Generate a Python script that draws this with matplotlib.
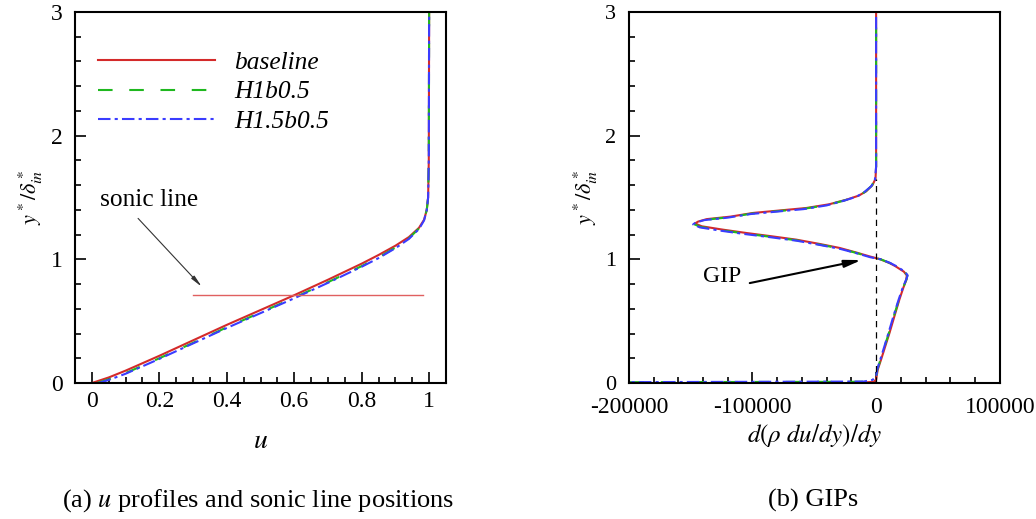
import matplotlib
matplotlib.use("Agg")
import matplotlib.pyplot as plt
from matplotlib.ticker import MultipleLocator

plt.rcParams["font.family"] = ["Liberation Serif", "DejaVu Serif"]
plt.rcParams["mathtext.fontset"] = "stix"

# u profiles (y*/delta*_in against u)
u_base = [0.0, 0.05, 0.1, 0.2, 0.3, 0.4, 0.5, 0.6, 0.7, 0.8, 0.85, 0.9, 0.94,
          0.97, 0.985, 0.993, 0.997, 0.999, 1.0]
y_base = [0.0, 0.045, 0.1, 0.22, 0.345, 0.47, 0.59, 0.71, 0.835, 0.965, 1.035,
          1.11, 1.18, 1.255, 1.32, 1.4, 1.5, 1.8, 3.0]
u_h1 = [0.015, 0.05, 0.1, 0.2, 0.3, 0.4, 0.5, 0.6, 0.7, 0.8, 0.85, 0.9, 0.94,
        0.97, 0.985, 0.993, 0.997, 0.999, 1.0]
y_h1 = [0.0, 0.03, 0.08, 0.2, 0.325, 0.45, 0.57, 0.69, 0.815, 0.945, 1.015,
        1.095, 1.17, 1.25, 1.32, 1.4, 1.5, 1.8, 3.0]
u_h15 = [0.02, 0.05, 0.1, 0.2, 0.3, 0.4, 0.5, 0.6, 0.7, 0.8, 0.85, 0.9, 0.94,
         0.97, 0.985, 0.993, 0.997, 0.999, 1.0]
y_h15 = [0.0, 0.025, 0.075, 0.195, 0.32, 0.445, 0.565, 0.685, 0.81, 0.94, 1.01,
         1.09, 1.165, 1.245, 1.315, 1.4, 1.5, 1.8, 3.0]

sonic_y = 0.71
sonic_u = [0.30, 0.982]

# GIP profiles: d(rho du/dy)/dy against y*/delta*_in
g_base = [-15000, -2000, 0, 1300, 4000, 7500, 10800, 14800, 18800, 22000,
          24500, 24800, 22500, 20000, 15500, 10800, 3500, -5400, -16000,
          -29500, -46000, -64500, -85000, -105000, -124000, -141000, -146500,
          -144000, -137000, -118000, -99500, -78000, -56500, -38000, -24000,
          -14000, -8000, -3000, -500, 0, 0]
yg_base = [0.0, 0.01, 0.027, 0.108, 0.189, 0.3, 0.404, 0.54, 0.674, 0.77,
           0.836, 0.87, 0.9, 0.916, 0.945, 0.97, 1.0, 1.024, 1.055, 1.092,
           1.125, 1.159, 1.187, 1.213, 1.24, 1.267, 1.29, 1.305, 1.325, 1.345,
           1.375, 1.395, 1.415, 1.445, 1.482, 1.515, 1.55, 1.6, 1.65, 1.75, 3.0]
g_h1 = [-250000, -12000, -3000, 0, 1000, 3600, 7000, 10300, 14300, 18500,
        21800, 24500, 25300, 23000, 20500, 16000, 11200, 3800, -5000, -15500,
        -29000, -46000, -64500, -85500, -106000, -125000, -142000, -147500,
        -145000, -138000, -119000, -100500, -79000, -57500, -39000, -25000,
        -15000, -9000, -3500, -800, 0, 0]
yg_h1 = [0.006, 0.01, 0.02, 0.04, 0.11, 0.19, 0.3, 0.404, 0.54, 0.674, 0.77,
         0.836, 0.87, 0.9, 0.916, 0.945, 0.97, 1.0, 1.02, 1.05, 1.087, 1.12,
         1.154, 1.182, 1.208, 1.235, 1.262, 1.285, 1.3, 1.32, 1.34, 1.37, 1.39,
         1.41, 1.44, 1.478, 1.51, 1.545, 1.595, 1.645, 1.75, 3.0]
g_h15 = [-250000, -10000, -3000, 0, 900, 3400, 6800, 10000, 14000, 18200,
         21500, 24300, 25500, 23300, 20800, 16300, 11500, 4000, -4800, -15000,
         -28500, -45500, -64000, -85000, -106000, -125500, -142500, -148000,
         -146000, -139000, -120000, -101500, -80000, -58500, -40000, -26000,
         -16000, -10000, -4000, -1000, 0, 0]
yg_h15 = [0.006, 0.012, 0.025, 0.05, 0.11, 0.19, 0.3, 0.404, 0.54, 0.674,
          0.77, 0.836, 0.87, 0.9, 0.916, 0.945, 0.97, 1.0, 1.017, 1.047, 1.083,
          1.116, 1.15, 1.178, 1.204, 1.231, 1.258, 1.282, 1.297, 1.317, 1.337,
          1.366, 1.386, 1.406, 1.436, 1.474, 1.506, 1.54, 1.59, 1.64, 1.75, 3.0]

zero_top = 1.65

labels = ["baseline", "H1b0.5", "H1.5b0.5"]
colors = ["#d42a2a", "#1fb81f", "#3a3cff"]
styles = ["-", (0, (7, 8)), (0, (6, 2, 1.5, 2))]

fig = plt.figure(figsize=(10.36, 5.19), dpi=100)
ax1 = fig.add_axes([0.0724, 0.262, 0.3581, 0.715])
ax2 = fig.add_axes([0.607, 0.262, 0.358, 0.715])

for ax in (ax1, ax2):
    for s in ax.spines.values():
        s.set_linewidth(1.5)
    ax.tick_params(which="both", direction="in", top=False, right=False,
                   labelsize=17, width=1.2)
    ax.tick_params(which="major", length=8)
    ax.tick_params(which="minor", length=4)
    ax.tick_params(axis="y", pad=9)
    ax.set_ylim(0, 3)
    ax.yaxis.set_major_locator(MultipleLocator(1))
    ax.yaxis.set_minor_locator(MultipleLocator(0.2))
    ax.set_ylabel(r"$y^*/\delta^*_{in}$", fontsize=16, labelpad=4)

# (a) u profiles
for u, y, lab, c, ls in zip([u_base, u_h1, u_h15], [y_base, y_h1, y_h15],
                            labels, colors, styles):
    ax1.plot(u, y, color=c, ls=ls, lw=1.5, label=lab)
ax1.plot(sonic_u, [sonic_y, sonic_y], color="#e06060", lw=1.0)
ax1.set_xlim(-0.05, 1.05)
ax1.xaxis.set_minor_locator(MultipleLocator(0.05))
ax1.set_xticks([0, 0.2, 0.4, 0.6, 0.8, 1.0], ["0", "0.2", "0.4", "0.6", "0.8", "1"])
ax1.tick_params(axis="x", pad=6)
ax1.set_xlabel(r"$u$", fontsize=20, labelpad=12)
ax1.legend(loc="upper left", bbox_to_anchor=(0.0, 0.955), frameon=False,
           handlelength=4.6, handletextpad=0.75, labelspacing=0.25,
           prop={"size": 18.3, "style": "italic"})
ax1.text(0.023, 1.48, "sonic line", fontsize=18.3, ha="left", va="center")
ax1.annotate("", xy=(0.326, 0.778), xytext=(0.137, 1.331),
             arrowprops=dict(arrowstyle="-|>,head_width=0.12,head_length=0.7",
                             color="#333333", lw=0.8, shrinkA=0, shrinkB=0))

# (b) GIPs
for g, y, lab, c, ls in zip([g_base, g_h1, g_h15], [yg_base, yg_h1, yg_h15],
                            labels, colors, styles):
    ax2.plot(g, y, color=c, ls=ls, lw=1.5, label=lab)
ax2.vlines(0, 0, zero_top, colors="black", linestyles=(0, (5, 4)), lw=0.9)
ax2.set_xlim(-200000, 100000)
ax2.xaxis.set_minor_locator(MultipleLocator(20000))
ax2.set_xticks([-200000, -100000, 0, 100000],
               ["-200000", "-100000", "0", "100000"])
ax2.tick_params(axis="x", pad=10)
ax2.tick_params(axis="y", labelsize=16)
ax2.set_xlabel(r"$d(\rho\ du/dy)/dy$", fontsize=18, labelpad=3)
ax2.text(-124800, 0.865, "GIP", fontsize=17, ha="center", va="center")
ax2.annotate("", xy=(-11900, 0.994), xytext=(-102200, 0.808),
             arrowprops=dict(arrowstyle="-|>,head_width=0.22,head_length=1.0",
                             color="black", lw=1.5, shrinkA=0, shrinkB=0))

fig.text(0.249, 0.036, r"(a) $u$ profiles and sonic line positions",
         fontsize=19, ha="center", va="center")
fig.text(0.785, 0.036, "(b) GIPs", fontsize=19, ha="center", va="center")

fig.savefig("out.png", dpi=100)
